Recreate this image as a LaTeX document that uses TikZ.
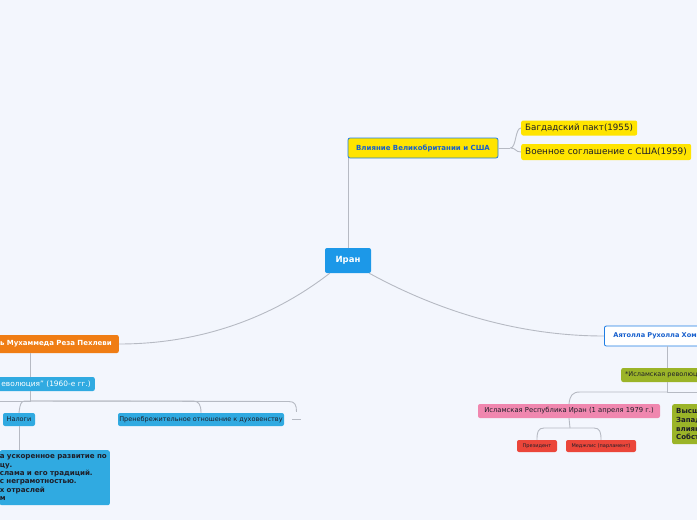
\documentclass[tikz,border=0pt]{standalone}
\usepackage{fontspec}
\setmainfont{DejaVu Sans}
\usepackage{tikz}
\usetikzlibrary{positioning, calc}
\definecolor{mapbg}      {RGB}{243,246,253}
\definecolor{mapline}    {RGB}{182,186,195}
\definecolor{rootblue}   {RGB}{28, 152,232}
\definecolor{hubblue}    {RGB}{30, 125,228}
\definecolor{hubtext}    {RGB}{22, 95, 205}
\definecolor{mapyellow}  {RGB}{255,228,0}
\definecolor{maporange}  {RGB}{240,125,20}
\definecolor{mapgreen}   {RGB}{155,180,40}
\definecolor{mappink}    {RGB}{240,135,175}
\definecolor{mapred}     {RGB}{235,70, 58}
\definecolor{mapsky}     {RGB}{48, 170,225}
\definecolor{maptext}    {RGB}{30, 30, 40}

\begin{document}
\begin{tikzpicture}[x=1pt,y=-1pt,
	topic/.style={rounded corners=2pt, inner sep=0pt, font=\fontsize{6.5}{8}\selectfont, text=maptext},
	branch/.style={draw=mapline, line width=0.9pt}]
	\fill[mapbg] (0,0) rectangle (697,520);
	\useasboundingbox (0,0) rectangle (697,520);
	\clip (0,0) rectangle (697,520);

	\node[topic, fill=rootblue, text=white, font=\fontsize{8.5}{9}\bfseries, minimum width=46, minimum height=25] (iran) at (348,260.5) {Иран};

	\node[topic, fill=mapyellow, draw=hubblue, line width=0.8pt, text=hubtext, font=\fontsize{7}{8}\bfseries, minimum width=150, minimum height=20] (influence) at (423,148) {Влияние Великобритании и США};
	\node[topic, fill=mapyellow, font=\fontsize{8.7}{9}\selectfont, text width=108, align=left, inner xsep=4pt, minimum height=15, anchor=west] (baghdad) at (521,128) {Багдадский пакт(1955)};
	\node[topic, fill=mapyellow, font=\fontsize{8.9}{9}\selectfont, text width=162, align=left, inner xsep=4pt, minimum height=16, anchor=west] (treaty) at (521,152) {Военное соглашение с США(1959)};

	\node[topic, fill=maporange, text=white, font=\fontsize{7}{8}\bfseries, text width=150, align=right, inner xsep=7pt, minimum height=18, anchor=east] (shah) at (119,344) {ть Мухаммеда Реза Пехлеви};
	\node[topic, fill=mapsky, text=white, font=\fontsize{7.4}{8}\selectfont, text width=120, align=right, inner xsep=4pt, minimum height=14, anchor=east] (whiterev) at (95,384) {еволюция" (1960-е гг.)};
	\node[topic, fill=mapsky, minimum width=32, minimum height=13] (taxes) at (19,419.5) {Налоги};
	\node[topic, fill=mapsky, minimum width=166, minimum height=13] (clergy) at (201,419.5) {Пренебрежительное отношение к духовенству};
	\node[minimum width=9, minimum height=7, inner sep=0pt] (stub) at (296.5,415.5) {};
	\node[topic, fill=mapsky, font=\fontsize{7.1}{8.3}\bfseries, text width=110, align=left, inner sep=0pt, minimum height=55, anchor=north east] (program) at (110,450) {а ускоренное развитие по\\цу.\\слама и его традиций.\\с неграмотностью.\\х отраслей\\м};

	\node[topic, fill=white, draw=hubblue, line width=0.8pt, text=hubtext, font=\fontsize{6.6}{8}\bfseries, text width=120, align=left, inner xsep=9pt, minimum height=20, anchor=west] (khomeini) at (604,336) {Аятолла Рухолла Хом};
	\node[topic, fill=mapgreen, text width=100, align=left, inner xsep=4pt, minimum height=14, anchor=west] (islrev) at (621,375) {*Исламская революц};
	\node[topic, fill=mappink, font=\fontsize{6.8}{8}\selectfont, minimum width=182, minimum height=14] (republic) at (569,411) {Исламская Республика Иран (1 апреля 1979 г.)};
	\node[topic, fill=mapgreen, font=\fontsize{7}{8.6}\bfseries, text width=60, align=left, inner xsep=4pt, inner ysep=4pt, minimum height=40, anchor=north west] (council) at (672,404) {Высш\\Запад\\влиян\\Собст};
	\node[topic, fill=mapred, font=\fontsize{5}{6}\selectfont, minimum width=40, minimum height=12] (president) at (537,446) {Президент};
	\node[topic, fill=mapred, font=\fontsize{5}{6}\selectfont, minimum width=70, minimum height=12] (majlis) at (601,446) {Меджлис (парламент)};

	\coordinate (infork) at ($(influence.east)+(12,0)$);
	\coordinate (leftfork) at (30,401);
	\coordinate (revtrunk) at (667,0);
	\coordinate (revfork) at (667,392);
	\coordinate (repfork) at (570,428);

	\draw[branch] (iran.north) -- (iran.north |- influence.south);
	\draw[branch] (influence.east) -- (infork);
	\draw[branch] (infork) .. controls ($(infork)+(6,0)$) and ($(baghdad.west)+(-6,0)$) .. (baghdad.west);
	\draw[branch] (infork) .. controls ($(infork)+(6,0)$) and ($(treaty.west)+(-6,0)$) .. (treaty.west);

	\draw[branch] ($(iran.south west)+(5,0)$) .. controls (272,318) and (200,344) .. (shah.east);
	\draw[branch] ($(iran.south east)+(-2,0)$) .. controls (440,312) and (520,336) .. (khomeini.west);

	\draw[branch] (shah.south -| leftfork) -- (whiterev.north -| leftfork);
	\draw[branch] (whiterev.south -| leftfork) -- (leftfork) -- (0,401);
	\draw[branch] (leftfork) -- (25,401) .. controls (21,401) and (20,404) .. (taxes.north);
	\draw[branch] (leftfork) -- (193,401) .. controls (199,401) and (201,405) .. (clergy.north);
	\draw[branch] (leftfork) -- (289,401.5) .. controls (295,401.5) and (296.5,405) .. (stub.north);
	\draw[branch] (stub.south west) -- (stub.south east);
	\draw[branch] (taxes.south) -- (program.north -| taxes.south);

	\draw[branch] (khomeini.south -| revtrunk) -- (islrev.north -| revtrunk);
	\draw[branch] (islrev.south -| revtrunk) -- (revfork) -- (700,392);
	\draw[branch] (revfork) -- (580,392) .. controls (572,392) and (570,396) .. (republic.north);
	\draw[branch] (republic.south) -- (repfork);
	\draw[branch] (repfork) -- (544,428) .. controls (538,428) and (537,432) .. (president.north);
	\draw[branch] (repfork) -- (594,428) .. controls (600,428) and (601,432) .. (majlis.north);
\end{tikzpicture}
\end{document}
